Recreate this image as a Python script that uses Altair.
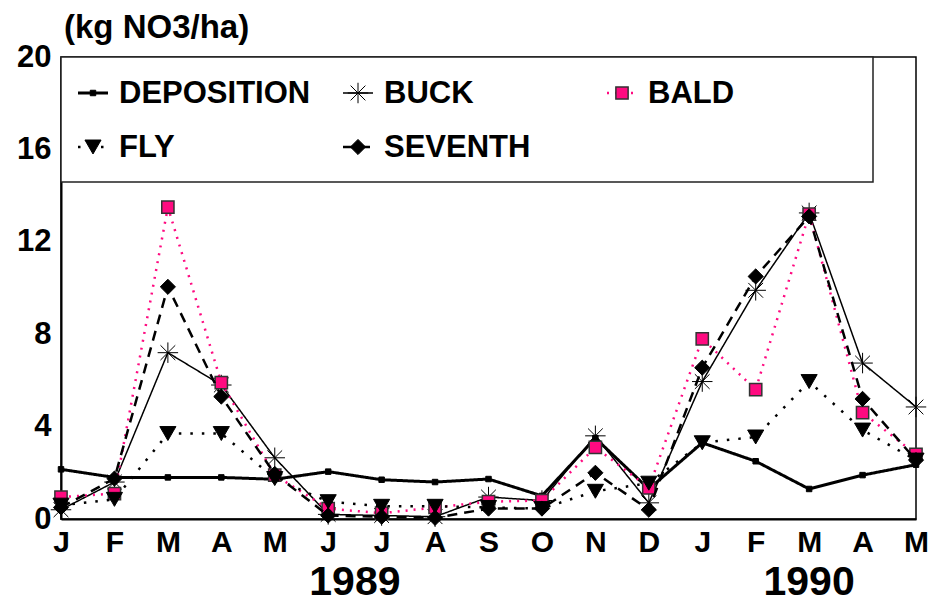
import altair as alt
import pandas as pd

# ---- data ----
months = ["J", "F", "M", "A", "M", "J", "J", "A", "S", "O", "N", "D",
          "J", "F", "M", "A", "M"]
years = ["1989"] * 12 + ["1990"] * 5
deposition = [2.15, 1.8, 1.8, 1.8, 1.72, 2.05, 1.7, 1.6, 1.73, 1.0, 3.5, 1.3, 3.3, 2.5, 1.3, 1.9, 2.35]
buck = [0.4, 1.6, 7.2, 5.8, 2.65, 0.2, 0.15, 0.1, 0.95, 0.8, 3.6, 0.7, 5.95, 9.9, 13.25, 6.75, 4.85]
bald = [0.95, 1.1, 13.5, 5.9, 1.9, 0.45, 0.25, 0.5, 0.75, 0.8, 3.1, 1.35, 7.8, 5.6, 13.2, 4.6, 2.8]
fly = [0.6, 0.85, 3.7, 3.7, 1.75, 0.75, 0.55, 0.55, 0.5, 0.45, 1.2, 1.55, 3.3, 3.55, 5.95, 3.85, 2.55]
seventh = [0.5, 1.75, 10.05, 5.3, 1.95, 0.15, 0.1, 0.05, 0.45, 0.45, 2.0, 0.4, 6.55, 10.5, 13.1, 5.2, 2.55]
series_names = ["DEPOSITION", "BUCK", "BALD", "FLY", "SEVENTH"]
series_values = [deposition, buck, bald, fly, seventh]
y_title = "(kg NO3/ha)"
y_ticks = [0, 4, 8, 12, 16, 20]

FONT = "Liberation Sans"
PINK = "#FF0A80"
ASTER = "M-1,0L1,0M0,-1L0,1M-0.72,-0.72L0.72,0.72M-0.72,0.72L0.72,-0.72"

W, H = 855, 462

styles = {
    "DEPOSITION": dict(color="black", lw=3, dash=[1, 0], shape="square", size=30,
                       filled=True, fill="black", stroke="black", sw=1),
    "BUCK": dict(color="black", lw=1.5, dash=[1, 0], shape=ASTER, size=420,
                 filled=False, fill="black", stroke="black", sw=1),
    "BALD": dict(color=PINK, lw=2.5, dash=[2, 6], shape="square", size=150,
                 filled=True, fill=PINK, stroke="#333333", sw=1.5),
    "FLY": dict(color="black", lw=2.5, dash=[2.5, 9], shape="triangle-down", size=260,
                filled=True, fill="black", stroke="black", sw=1),
    "SEVENTH": dict(color="black", lw=2.5, dash=[10, 7], shape="diamond", size=230,
                    filled=True, fill="black", stroke="black", sw=1),
}

label_expr = "[" + ",".join("'%s'" % m for m in months) + "][datum.value]"
x_enc = alt.X("i:Q", scale=alt.Scale(domain=[0, len(months) - 1], nice=False, zero=False),
              axis=alt.Axis(values=list(range(len(months))), labelExpr=label_expr, title=None,
                            labelFlush=False, labelOverlap=False, labelPadding=8,
                            labelFontSize=30, ticks=False, grid=False))
y_enc = alt.Y("v:Q", scale=alt.Scale(domain=[0, 20], nice=False),
              axis=alt.Axis(values=y_ticks, title=None, labelPadding=10, labelOverlap=False,
                            labelFlush=False, ticks=False, grid=False))

layers = []
legend_layers = []
box = alt.Chart(pd.DataFrame({"k": [0]})).mark_rect(
    fill="white", stroke="#222222", strokeWidth=1.5
).encode(x=alt.value(0), x2=alt.value(812), y=alt.value(0), y2=alt.value(125))
legend_layers.append(box)

col_x = [32, 297, 561]
row_y = [36, 90]

for k, (name, vals) in enumerate(zip(series_names, series_values)):
    st = styles[name]
    df = pd.DataFrame({"i": list(range(len(vals))), "v": vals, "month": months,
                       "year": years, "series": name})
    line = alt.Chart(df).mark_line(color=st["color"], strokeWidth=st["lw"],
                                   strokeDash=st["dash"]).encode(x=x_enc, y=y_enc)
    if st["filled"]:
        pts = alt.Chart(df).mark_point(shape=st["shape"], size=st["size"], filled=True,
                                       fill=st["fill"], stroke=st["stroke"],
                                       strokeWidth=st["sw"], opacity=1).encode(x=x_enc, y=y_enc)
    else:
        pts = alt.Chart(df).mark_point(shape=st["shape"], size=st["size"], filled=False,
                                       stroke=st["stroke"], strokeWidth=st["sw"],
                                       opacity=1).encode(x=x_enc, y=y_enc)
    layers += [line, pts]

    # legend entry
    cx = col_x[k % 3]
    cy = row_y[k // 3]
    ldf = pd.DataFrame({"name": [name]})
    lrule = alt.Chart(ldf).mark_rule(color=st["color"], strokeWidth=st["lw"],
                                     strokeDash=st["dash"]).encode(
        x=alt.value(cx - 15), x2=alt.value(cx + 15), y=alt.value(cy))
    if st["filled"]:
        lpt = alt.Chart(ldf).mark_point(shape=st["shape"], size=st["size"], filled=True,
                                        fill=st["fill"], stroke=st["stroke"],
                                        strokeWidth=st["sw"], opacity=1).encode(
            x=alt.value(cx), y=alt.value(cy))
    else:
        lpt = alt.Chart(ldf).mark_point(shape=st["shape"], size=st["size"], filled=False,
                                        stroke=st["stroke"], strokeWidth=st["sw"],
                                        opacity=1).encode(x=alt.value(cx), y=alt.value(cy))
    ltxt = alt.Chart(ldf).mark_text(align="left", baseline="middle", font=FONT,
                                    fontWeight="bold", fontSize=31, color="black").encode(
        x=alt.value(cx + 26), y=alt.value(cy + 1), text="name:N")
    legend_layers += [lrule, lpt, ltxt]

# year labels centred under each year's months
ydf = pd.DataFrame({"i": list(range(len(months))), "year": years})
year_pos = ydf.groupby("year", as_index=False)["i"].mean()
year_txt = alt.Chart(year_pos).mark_text(font=FONT, fontWeight="bold", fontSize=41,
                                         baseline="alphabetic", color="black").encode(
    x=alt.X("i:Q", scale=alt.Scale(domain=[0, len(months) - 1], nice=False, zero=False)),
    y=alt.value(H + 76), text="year:N")

title_txt = alt.Chart(pd.DataFrame({"t": [y_title]})).mark_text(
    font=FONT, fontWeight="bold", fontSize=33, align="left", baseline="middle",
    color="black").encode(x=alt.value(3), y=alt.value(-29), text="t:N")

chart = alt.layer(*layers, *legend_layers, year_txt, title_txt).properties(
    width=W, height=H,
    padding={"left": 53, "top": 49, "right": 14, "bottom": 85},
    autosize=alt.AutoSizeParams(type="none"),
).configure_view(
    stroke="black", strokeWidth=1.5
).configure_axis(
    domainColor="black", domainWidth=2, labelColor="black", labelFont=FONT,
    labelFontWeight="bold", labelFontSize=31
)

chart.save("out.html", embed_options={"renderer": "svg", "actions": False})
